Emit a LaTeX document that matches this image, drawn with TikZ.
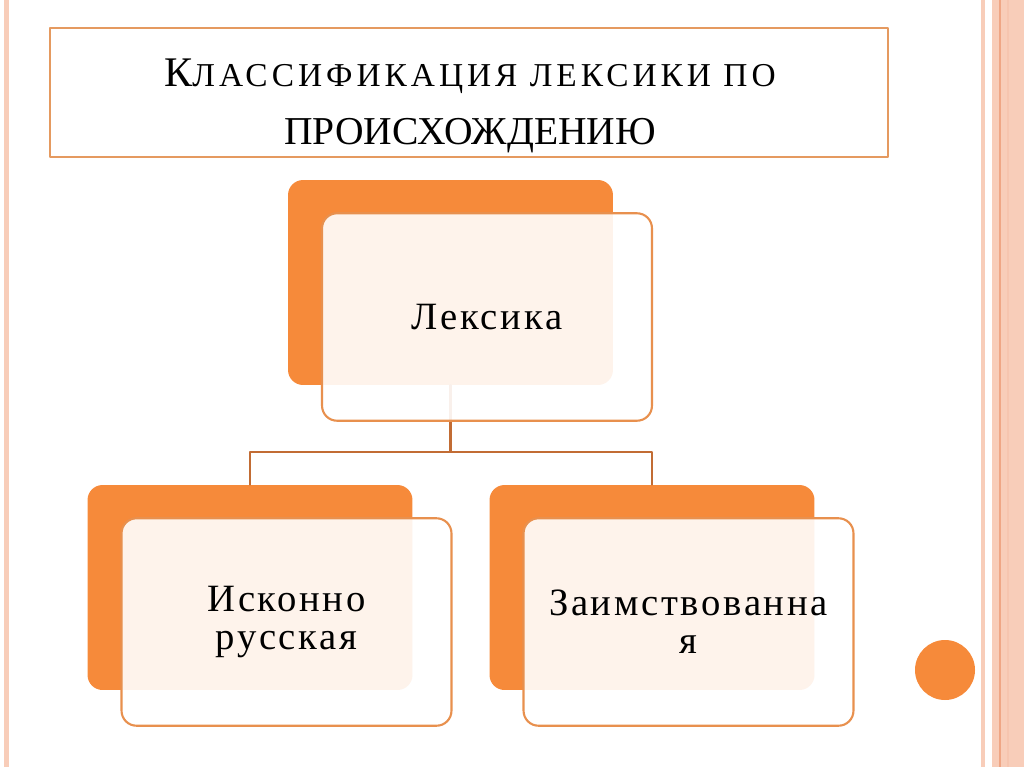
\documentclass[tikz,border=0pt]{standalone}
\usepackage{fontspec}
\setmainfont{Liberation Serif}
\newfontfamily\chutd[LetterSpace=12]{Liberation Serif}
\newfontfamily\chuhop[LetterSpace=7]{Liberation Serif}
\usetikzlibrary{positioning}
\definecolor{cam}{HTML}{F68A3A}
\definecolor{vien}{HTML}{E8904E}
\definecolor{vientd}{HTML}{E59A60}
\definecolor{noi}{HTML}{C26C34}
\definecolor{soc}{HTML}{F8CDB9}
\definecolor{socdam}{HTML}{EFA685}
\begin{document}
\begin{tikzpicture}[x=0.02cm,y=-0.02cm, line join=round, line cap=round,
	nen/.style={fill=cam,rounded corners=0.3cm,minimum width=6.5cm,minimum height=4.1cm,inner sep=0pt},
	khung/.style={draw=vien,line width=1.2pt,fill=white,fill opacity=0.9,text opacity=1,rounded corners=0.3cm,
		minimum width=6.6cm,minimum height=4.15cm,align=center,font=\chuhop\fontsize{22}{21.5}\selectfont},
	noi/.style={draw=noi,line width=1.2pt}]
	\useasboundingbox (0,0) rectangle (1024,767);
	% vien trang
	\fill[soc] (4,0) rectangle (9,767);
	\fill[soc] (981,0) rectangle (985,767);
	\fill[soc] (992,0) rectangle (1024,767);
	\foreach \x/\m in {1000/socdam,1008/soc!80!socdam}
		\draw[\m,line width=0.8pt] (\x,0)--(\x,767);
	% tieu de
	\node[draw=vientd,line width=1.2pt,minimum width=16.76cm,minimum height=2.58cm,inner sep=0pt] (tieude) at (469,92.5) {};
	\node[align=center,font=\fontsize{22.5}{33}\selectfont] (chude) at (470,106)
		{{\fontsize{24}{33}\selectfont К}{\chutd\fontsize{19}{33}\selectfont ЛАССИФИКАЦИЯ ЛЕКСИКИ ПО}\\ПРОИСХОЖДЕНИЮ};
	% nen cam
	\node[nen] (nlex) at (450.5,282.5) {};
	\node[nen] (nnat) at (250,587.5) {};
	\node[nen] (nmuon) at (652,587.5) {};
	% duong noi
	\draw[noi] (nlex.south) -- ++(0,67) -| (nnat.north);
	\draw[noi] (nlex.south) -- ++(0,67) -| (nmuon.north);
	% khung chu
	\node[khung] (lex) at ([shift={(36.5,34.5)}]nlex) {Лексика};
	\node[khung] (nat) at ([shift={(36.5,34.5)}]nnat) {Исконно\\русская};
	\node[khung] (muon) at ([shift={(36.5,34.5)}]nmuon) {Заимствованна\\я};
	% cham tron
	\fill[cam] (945,670) circle (30);
\end{tikzpicture}
\end{document}
